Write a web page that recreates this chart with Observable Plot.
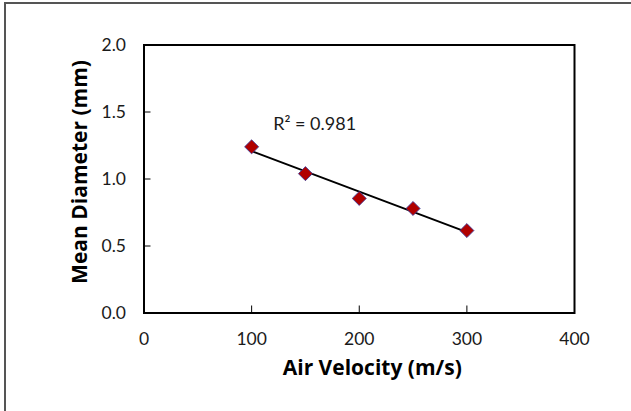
<!DOCTYPE html>
<html>
<head>
<meta charset="utf-8">
<script src="https://cdn.jsdelivr.net/npm/d3@7"></script>
<script src="https://cdn.jsdelivr.net/npm/@observablehq/plot@0.6"></script>
<style>
  html, body { margin: 0; padding: 0; background: #fff; }
  #wrap { position: relative; width: 631px; height: 411px; overflow: hidden; }
  #border { position: absolute; left: 4px; top: 2px; width: 700px; height: 500px;
            border-left: 2px solid #555; border-top: 2px solid #555; box-sizing: border-box; }
  #chart { position: absolute; left: 0; top: 0; }
</style>
</head>
<body>
<div id="wrap"><div id="border"></div><div id="chart"></div></div>
<script>
const airVelocity = [100, 150, 200, 250, 300];
const meanDiameter = [1.24, 1.04, 0.855, 0.78, 0.615];
const xTicks = [0, 100, 200, 300, 400];
const yTicks = [0.0, 0.5, 1.0, 1.5, 2.0];
const xTitle = "Air Velocity (m/s)";
const yTitle = "Mean Diameter (mm)";
const annotation = ["R² = 0.981"];

const data = airVelocity.map((v, i) => ({v, d: meanDiameter[i]}));
const font = "Lato, 'Open Sans', sans-serif";
const titleFont = "'Open Sans', Lato, sans-serif";

const chart = Plot.plot({
  width: 631,
  height: 411,
  marginLeft: 143.5,
  marginRight: 57,
  marginTop: 44.5,
  marginBottom: 98.5,
  style: {fontFamily: font, background: "transparent", color: "#1a1a1a"},
  x: {domain: [0, 400]},
  y: {domain: [0, 2]},
  marks: [
    Plot.axisX(xTicks, {tickSize: -7, tickPadding: 27, fontSize: 17.5, tickFormat: d => d.toString(), label: null, stroke: "#000"}),
    Plot.axisY(yTicks, {tickSize: -7, tickPadding: 25, fontSize: 17.5, tickFormat: d => d.toFixed(1), label: null, stroke: "#000"}),
    Plot.frame({stroke: "#000", strokeWidth: 2}),
    Plot.linearRegressionY(data, {x: "v", y: "d", ci: 0, stroke: "#000", strokeWidth: 2}),
    Plot.dot(data, {x: "v", y: "d", symbol: "square", rotate: 45, r: 5.6, fill: "#b00000", stroke: "#3a3a9a", strokeWidth: 0.8}),
    Plot.text(annotation, {x: 120, y: 1.41, text: d => d, textAnchor: "start", fontSize: 18, fill: "#1a1a1a"}),
    Plot.text([xTitle], {frameAnchor: "bottom", dx: 13, dy: 55.5, lineAnchor: "middle", text: d => d, fontFamily: titleFont, fontSize: 21, fontWeight: "bold", fill: "#000"}),
    Plot.text([yTitle], {frameAnchor: "left", dx: -63.5, dy: -7, rotate: -90, textAnchor: "middle", lineAnchor: "middle", text: d => d, fontFamily: titleFont, fontSize: 21, fontWeight: "bold", fill: "#000"})
  ]
});
document.getElementById("chart").appendChild(chart);
</script>
</body>
</html>
